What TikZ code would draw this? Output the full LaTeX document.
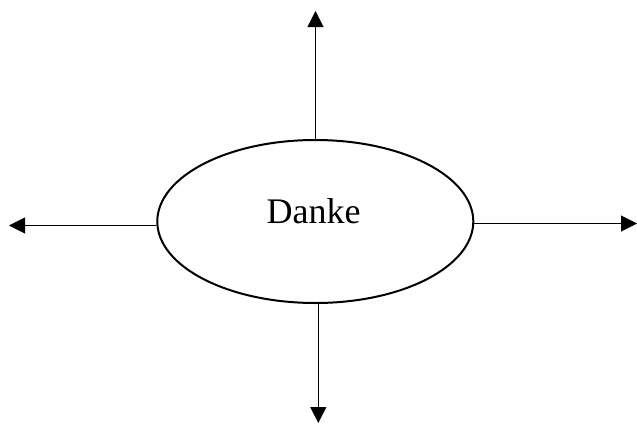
\documentclass[tikz,border=0pt]{standalone}
\usepackage{fontspec}
\setmainfont{Liberation Serif}
\usetikzlibrary{shapes.geometric,arrows.meta}
\begin{document}
\begin{tikzpicture}[x=1pt,y=-1pt,
  conn/.style={line width=1pt,-{Triangle[length=16pt,width=16pt]}},
  oval/.style={ellipse,draw,line width=2pt,minimum width=316pt,minimum height=163pt,inner sep=0pt}]
\useasboundingbox (0,0) rectangle (637,423);
\node[oval] (e) at (315.3,221.5) {};
\node[anchor=base,font=\fontsize{36}{40}\selectfont,inner sep=0pt] (lbl) at (313.5,223) {Danke};
\coordinate (tt) at (315.5,11);
\coordinate (tb) at (318.3,423);
\coordinate (tl) at (9,225.5);
\coordinate (tr) at (637,223.5);
\draw[conn] (e.north -| tt) -- (tt);
\draw[conn] (e.south -| tb) -- (tb);
\draw[conn] (e.west |- tl) -- (tl);
\draw[conn] (e.east |- tr) -- (tr);
\end{tikzpicture}
\end{document}
